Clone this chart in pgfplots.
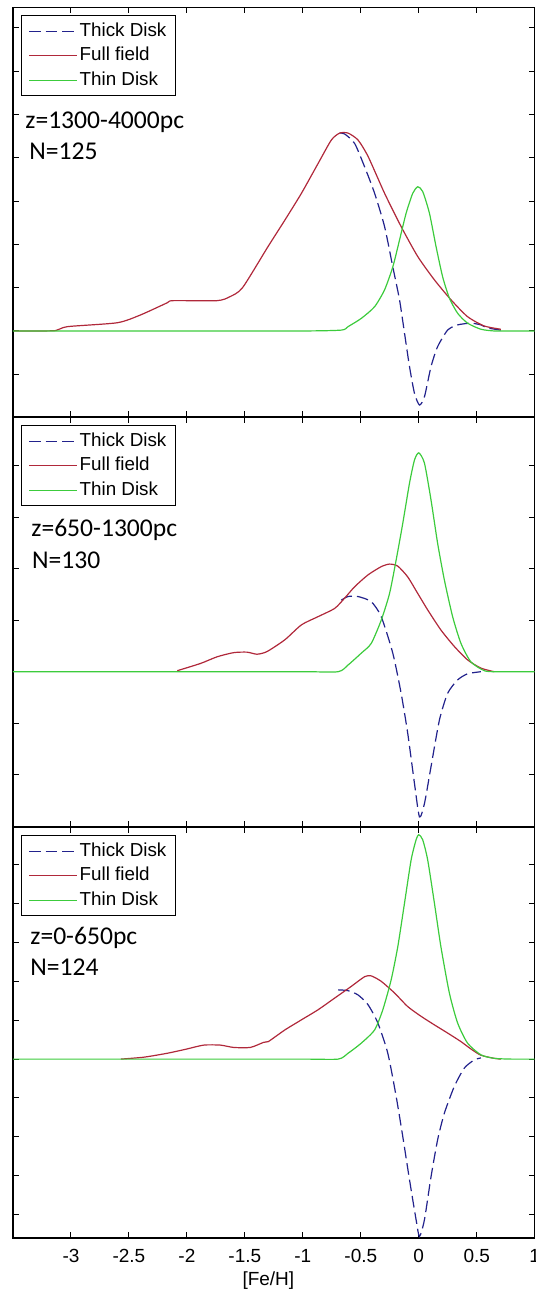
\documentclass[border=0pt]{standalone}
\usepackage{pgfplots}
\pgfplotsset{compat=1.18}
\usepackage{fontspec}
\setmainfont{Liberation Sans}
\newfontfamily\tickfont{Liberation Sans}
\newfontfamily\notefont{Carlito}

\definecolor{thickc}{HTML}{22228C}
\definecolor{fullc}{HTML}{B0283A}
\definecolor{thinc}{HTML}{3CCB3C}

\pgfplotsset{
  panel/.style={
    scale only axis, width=260.85pt, anchor=north west,
    xmin=-3.5, xmax=1, xtick={-3,-2.5,...,1},
    tick align=inside, major tick length=2.8pt, tick pos=both,
    xticklabels={}, yticklabels={},
    axis line style={line width=0.6pt},
    every tick/.style={black, line width=0.5pt},
    legend cell align=left,
    legend image code/.code={\draw[##1] (0pt,0pt) -- (24pt,0pt);},
    legend style={at={(0,1)}, anchor=north west, xshift=4pt, yshift=-4pt,
      draw=black, line width=0.5pt, fill=white,
      font=\fontsize{9.4}{11}\selectfont,
      inner xsep=3.5pt, inner ysep=2.5pt, row sep=1.6pt,
      nodes={inner sep=1pt, text height=6.8pt, text depth=1.8pt}},
  },
  thickd/.style={thickc, line width=0.6pt, dash pattern=on 5.8pt off 2.5pt, smooth, tension=0.4},
  fullf/.style={fullc, line width=0.6pt, smooth, tension=0.4},
  thind/.style={thinc, line width=0.6pt, smooth, tension=0.4},
}
\tikzset{note/.style={anchor=base west, inner sep=0, font=\notefont\fontsize{12.8}{15}\selectfont}}

\begin{document}
\begin{tikzpicture}
\useasboundingbox (0,0) rectangle (268pt,-646pt);

% z = 1300-4000 pc
\begin{axis}[panel, at={(6.5pt,-3.65pt)}, height=204.7pt,
  ymin=-1.98, ymax=7.475, ytick={-1,...,7}]
\addplot[thickd] coordinates {
  (-0.682,4.57) (-0.639,4.55) (-0.553,4.33) (-0.467,3.79) (-0.381,3.18)
  (-0.295,2.41) (-0.224,1.48) (-0.166,0.72) (-0.123,-0.05) (-0.080,-0.82)
  (-0.037,-1.44) (0.006,-1.71) (0.049,-1.52) (0.106,-0.82) (0.163,-0.36)
  (0.249,0.02) (0.335,0.14) (0.450,0.18) (0.536,0.14) (0.593,0.07) (0.708,0.02)};
\addlegendentry{Thick Disk}
\addplot[fullf] coordinates {
  (-3.49,0) (-3.30,0) (-3.13,0.01) (-3.03,0.10) (-2.60,0.19) (-2.40,0.37)
  (-2.17,0.65) (-2.12,0.70) (-1.74,0.70) (-1.63,0.79) (-1.52,1.00)
  (-1.30,1.95) (-1.155,2.56) (-1.012,3.18) (-0.868,3.87) (-0.754,4.41)
  (-0.682,4.57) (-0.610,4.57) (-0.524,4.41) (-0.437,4.03) (-0.295,3.18)
  (-0.152,2.41) (-0.009,1.72) (0.135,1.18) (0.278,0.72) (0.421,0.33)
  (0.565,0.115) (0.708,0.04)};
\addlegendentry{Full field}
\addplot[thind] coordinates {
  (-3.5,0) (-2.0,0) (-1.0,0) (-0.668,0.02) (-0.610,0.10) (-0.496,0.29)
  (-0.381,0.56) (-0.295,0.95) (-0.224,1.48) (-0.166,2.10) (-0.109,2.72)
  (-0.052,3.18) (-0.009,3.33) (0.034,3.22) (0.092,2.72) (0.149,1.95)
  (0.206,1.25) (0.264,0.76) (0.335,0.41) (0.421,0.18) (0.536,0.04)
  (0.651,0) (0.8,0) (1.0,0)};
\addlegendentry{Thin Disk}
\node[note, xshift=6pt, yshift=-60.35pt] at (axis description cs:0,1) {z=1300-4000pc};
\node[note, xshift=8pt, yshift=-75.85pt] at (axis description cs:0,1) {N=125};
\end{axis}

% z = 650-1300 pc
\begin{axis}[panel, at={(6.5pt,-208.65pt)}, height=204.7pt,
  ymin=-3.01, ymax=4.94, ytick={-2,...,4}]
\addplot[thickd] coordinates {
  (-0.668,1.39) (-0.610,1.46) (-0.524,1.46) (-0.410,1.36) (-0.324,1.07)
  (-0.224,0.36) (-0.152,-0.42) (-0.095,-1.20) (-0.037,-2.17) (0.006,-2.82)
  (0.049,-2.56) (0.106,-1.84) (0.178,-0.94) (0.249,-0.42) (0.335,-0.16)
  (0.421,-0.04) (0.536,0)};
\addlegendentry{Thick Disk}
\addplot[fullf] coordinates {
  (-2.083,0.02) (-1.883,0.16) (-1.739,0.29) (-1.597,0.37) (-1.482,0.38)
  (-1.396,0.34) (-1.310,0.39) (-1.155,0.62) (-1.012,0.91) (-0.868,1.07)
  (-0.725,1.23) (-0.639,1.43) (-0.553,1.65) (-0.438,1.88) (-0.324,2.04)
  (-0.252,2.09) (-0.181,2.05) (-0.095,1.84) (-0.009,1.52) (0.077,1.20)
  (0.191,0.81) (0.307,0.49) (0.421,0.23) (0.536,0.07) (0.651,0)};
\addlegendentry{Full field}
\addplot[thind] coordinates {
  (-3.5,0) (-2.0,0) (-1.0,0) (-0.696,0) (-0.610,0.13) (-0.496,0.36)
  (-0.410,0.55) (-0.324,1.00) (-0.252,1.52) (-0.195,2.17) (-0.138,2.88)
  (-0.080,3.66) (-0.037,4.11) (0,4.25) (0.049,4.05) (0.106,3.33)
  (0.163,2.49) (0.221,1.78) (0.292,1.07) (0.364,0.55) (0.450,0.19)
  (0.565,0.02) (0.651,0) (0.8,0) (1.0,0)};
\addlegendentry{Thin Disk}
\node[note, xshift=9pt, yshift=-59.7pt] at (axis description cs:0,1) {z=650-1300pc};
\node[note, xshift=9.35pt, yshift=-75.5pt] at (axis description cs:0,1) {N=130};
\end{axis}

% z = 0-650 pc
\begin{axis}[panel, at={(6.5pt,-413.65pt)}, height=205.35pt,
  ymin=-4.6, ymax=5.96, ytick={-4,...,5},
  xticklabels={-3,-2.5,-2,-1.5,-1,-0.5,0,0.5,1},
  xticklabel style={font=\tickfont\fontsize{9.5}{11}\selectfont, anchor=base, yshift=-12pt},
  xlabel={[Fe/H]},
  xlabel style={at={(axis description cs:0.4895,0)}, anchor=base, yshift=-23.5pt,
    font=\tickfont\fontsize{9.5}{11}\selectfont}]
\addplot[thickd] coordinates {
  (-0.696,1.78) (-0.610,1.76) (-0.524,1.65) (-0.438,1.40) (-0.353,0.93)
  (-0.267,0.15) (-0.195,-0.96) (-0.138,-1.99) (-0.080,-3.10) (-0.023,-4.13)
  (0.006,-4.56) (0.049,-4.13) (0.106,-3.02) (0.163,-2.07) (0.221,-1.39)
  (0.307,-0.70) (0.393,-0.23) (0.479,-0.02) (0.536,0.03)};
\addlegendentry{Thick Disk}
\addplot[fullf] coordinates {
  (-2.57,0) (-2.37,0.05) (-2.17,0.15) (-2.00,0.26) (-1.855,0.36)
  (-1.711,0.36) (-1.597,0.30) (-1.453,0.30) (-1.339,0.43) (-1.298,0.45)
  (-1.155,0.75) (-1.012,1.01) (-0.868,1.27) (-0.725,1.57) (-0.582,1.87)
  (-0.467,2.12) (-0.410,2.14) (-0.324,2.00) (-0.209,1.70) (-0.095,1.35)
  (0.020,1.10) (0.135,0.88) (0.249,0.67) (0.364,0.45) (0.450,0.26)
  (0.536,0.10) (0.651,0.02) (0.708,0)};
\addlegendentry{Full field}
\addplot[thind] coordinates {
  (-3.5,0) (-2.0,0) (-1.0,0) (-0.696,0) (-0.610,0.15) (-0.496,0.41)
  (-0.381,0.75) (-0.310,1.27) (-0.238,2.04) (-0.181,2.89) (-0.123,4.01)
  (-0.066,5.12) (-0.023,5.64) (0,5.77) (0.034,5.64) (0.077,5.12)
  (0.135,4.01) (0.191,2.89) (0.264,1.70) (0.335,0.93) (0.421,0.41)
  (0.536,0.11) (0.651,0.02) (0.8,0) (1.0,0)};
\addlegendentry{Thin Disk}
\node[note, xshift=8.5pt, yshift=-58.35pt] at (axis description cs:0,1) {z=0-650pc};
\node[note, xshift=8.5pt, yshift=-73.85pt] at (axis description cs:0,1) {N=124};
\end{axis}
\end{tikzpicture}
\end{document}
